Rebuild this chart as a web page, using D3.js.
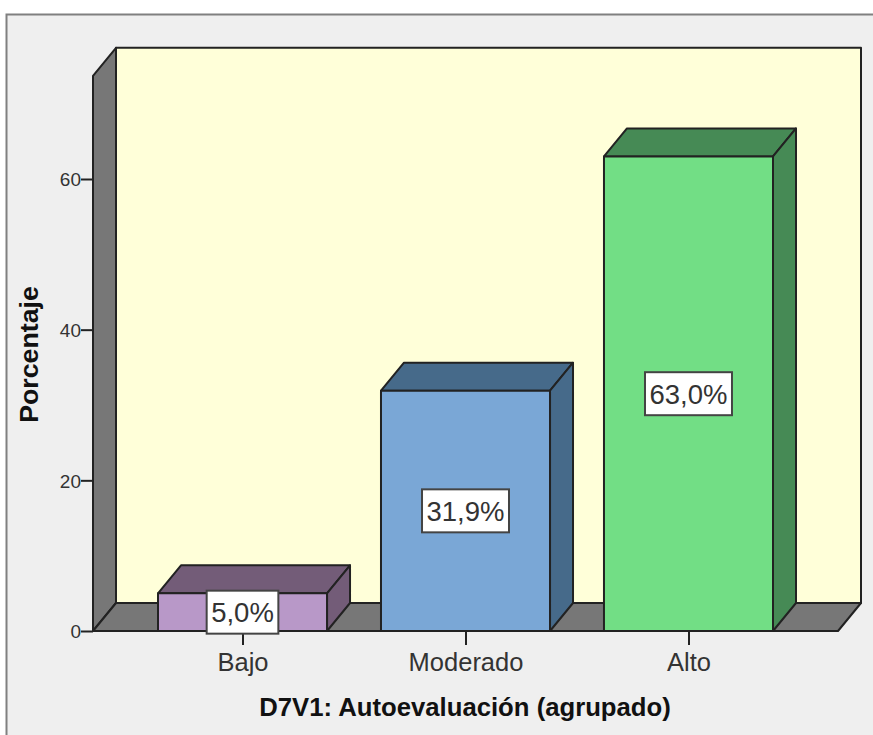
<!DOCTYPE html>
<html><head><meta charset="utf-8">
<script src="https://cdn.jsdelivr.net/npm/d3@7/dist/d3.min.js"></script>
<style>html,body{margin:0;padding:0;background:#fff;overflow:hidden}svg{display:block}text{font-family:"Liberation Sans",Arial,sans-serif}</style>
</head><body><svg id="c" width="873" height="735"></svg>
<script>
const categories = ["Bajo","Moderado","Alto"];
const values = [5.0,31.9,63.0];
const valueLabels = ["5,0%","31,9%","63,0%"];
const faceColors = ["#b898c8","#7aa7d6","#72de85"];
const sideColors = ["#735c78","#466a8a","#468a55"];
const yTicks = [0,20,40,60];
const yMax = 73.7;
const xTitle = "D7V1: Autoevaluación (agrupado)";
const yTitle = "Porcentaje";

const svg = d3.select("#c");
const ink = "#222";
const dx = 23, dy = 28;
const x = d3.scaleBand().domain(categories).range([158,773]).paddingInner(0.242);
const y = d3.scaleLinear().domain([0,60]).range([631,179]);
const leftX = 93, rightX = 838, topY = y(yMax);
const line = d3.line();
const poly = (pts,fill,w=2)=>svg.append("path").attr("d",line(pts)+"Z").attr("fill",fill).attr("stroke",ink).attr("stroke-width",w).attr("stroke-linejoin","round");

svg.append("rect").attr("x",6.5).attr("y",14.5).attr("width",880).attr("height",730).attr("fill","#efefef").attr("stroke","#808080").attr("stroke-width",2);

// back wall, side wall, floor
poly([[leftX+dx,topY-dy],[rightX+dx,topY-dy],[rightX+dx,y(0)-dy],[leftX+dx,y(0)-dy]],"#ffffd9");
poly([[leftX,topY],[leftX+dx,topY-dy],[leftX+dx,y(0)-dy],[leftX,y(0)]],"#777777");
poly([[leftX,y(0)],[leftX+dx,y(0)-dy],[rightX+dx,y(0)-dy],[rightX,y(0)]],"#777777");

// axes
const yAxis = d3.axisLeft(y).tickValues(yTicks).tickSize(12).tickPadding(0).tickFormat(d3.format("d"));
const gy = svg.append("g").attr("transform",`translate(${leftX},0)`).call(yAxis);
gy.select(".domain").remove();
gy.selectAll("line").attr("stroke",ink).attr("stroke-width",2);
gy.selectAll("text").attr("font-size",19).attr("fill","#333").attr("dy","0.36em");

const xPoint = d3.scalePoint().domain(categories).range([x("Bajo")+x.bandwidth()/2,x("Alto")+x.bandwidth()/2]);
const xAxis = d3.axisBottom(xPoint).tickSize(14).tickPadding(8);
const gx = svg.append("g").attr("transform",`translate(0,${y(0)})`).call(xAxis);
gx.select(".domain").remove();
gx.selectAll("line").attr("stroke",ink).attr("stroke-width",2);
gx.selectAll("text").attr("font-size",25.5).attr("fill","#333");

// bars
categories.forEach((c,i)=>{
  const x0=x(c), x1=x0+x.bandwidth(), yt=y(values[i]), yb=y(0);
  poly([[x0,yt],[x0+dx,yt-dy],[x1+dx,yt-dy],[x1,yt]],sideColors[i]);
  poly([[x1,yt],[x1+dx,yt-dy],[x1+dx,yb-dy],[x1,yb]],sideColors[i]);
  poly([[x0,yt],[x1,yt],[x1,yb],[x0,yb]],faceColors[i]);
});
// value labels
categories.forEach((c,i)=>{
  const cx=x(c)+x.bandwidth()/2, cy=(y(values[i])+y(0))/2;
  const g=svg.append("g");
  const t=g.append("text").attr("x",cx).attr("y",cy).attr("dy","0.36em").attr("text-anchor","middle").attr("font-size",27.5).attr("fill","#333").text(valueLabels[i]);
  const w=t.node().getComputedTextLength()+9;
  g.insert("rect","text").attr("x",cx-w/2).attr("y",cy-21.5).attr("width",w).attr("height",43).attr("fill","#fff").attr("stroke","#444").attr("stroke-width",2);
});
// titles
svg.append("text").attr("x",465).attr("y",716).attr("text-anchor","middle").attr("font-size",25.7).attr("font-weight","bold").attr("fill","#111").text(xTitle);
svg.append("text").attr("transform","translate(38,354.5) rotate(-90)").attr("text-anchor","middle").attr("font-size",26.7).attr("font-weight","bold").attr("fill","#111").text(yTitle);
</script></body></html>
